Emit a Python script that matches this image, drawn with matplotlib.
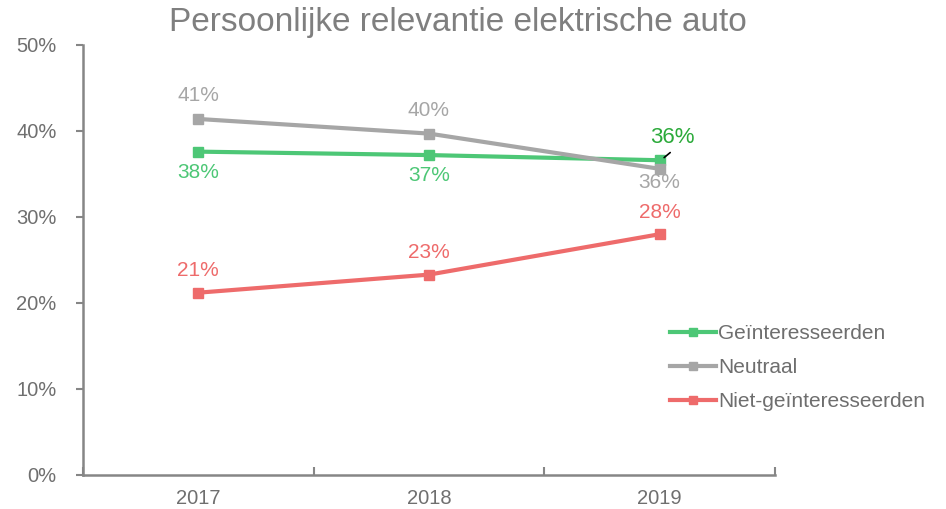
import numpy as np
import matplotlib.pyplot as plt

years = ["2017", "2018", "2019"]
geinteresseerden = [37.6, 37.2, 36.6]
neutraal = [41.4, 39.7, 35.6]
niet_geinteresseerden = [21.2, 23.3, 28.0]

green_labels = ["38%", "37%", "36%"]
gray_labels = ["41%", "40%", "36%"]
red_labels = ["21%", "23%", "28%"]

GREEN = "#4DC776"
GRAY = "#A6A6A6"
RED = "#EE6B6B"
AXIS = "#868686"
TEXT = "#7F7F7F"

plt.rcParams['font.family'] = ['Liberation Sans', 'DejaVu Sans']

fig = plt.figure(figsize=(9.46, 5.09), dpi=100)
ax = fig.add_axes([83/946, 1 - 475/509, (775-83)/946, (475-45)/509])

x = np.arange(len(years))
lg, = ax.plot(x, geinteresseerden, color=GREEN, lw=3, marker="s", ms=7, label="Geïnteresseerden")
ln, = ax.plot(x, neutraal, color=GRAY, lw=3, marker="s", ms=7, label="Neutraal")
lr, = ax.plot(x, niet_geinteresseerden, color=RED, lw=3, marker="s", ms=7, label="Niet-geïnteresseerden")

# data labels
for i in range(2):
    ax.annotate(gray_labels[i], (x[i], neutraal[i]), xytext=(0, 10), textcoords="offset points",
                ha="center", va="bottom", color=GRAY, fontsize=15)
    ax.annotate(green_labels[i], (x[i], geinteresseerden[i]), xytext=(0, -8), textcoords="offset points",
                ha="center", va="top", color=GREEN, fontsize=15)
for i in range(3):
    ax.annotate(red_labels[i], (x[i], niet_geinteresseerden[i]), xytext=(0, 9), textcoords="offset points",
                ha="center", va="bottom", color=RED, fontsize=15)
# 2019 green label sits above with a small leader line
ax.annotate(green_labels[2], (x[2], geinteresseerden[2]), xytext=(9, 9), textcoords="offset points",
            ha="center", va="bottom", color="#2BAA3A", fontsize=16)
ax.annotate("", (x[2] + 0.01, geinteresseerden[2] + 0.1), xytext=(x[2] + 0.055, geinteresseerden[2] + 1.1),
            arrowprops=dict(arrowstyle="-", color="black", lw=1.2))
ax.annotate(gray_labels[2], (x[2], neutraal[2]), xytext=(0, -3), textcoords="offset points",
            ha="center", va="top", color=GRAY, fontsize=15)

ax.set_xlim(-0.5, 2.5)
ax.set_ylim(0, 50)
ax.set_yticks(np.arange(0, 51, 10))
ax.set_yticklabels([f"{v}%" for v in range(0, 51, 10)])
ax.set_xticks(x)
ax.set_xticklabels(years)
ax.set_xticks([-0.5, 0.5, 1.5, 2.5], minor=True)
ax.tick_params(axis="x", which="major", length=0, pad=10, labelsize=14.5, labelcolor="#6F6F6F")
ax.tick_params(axis="x", which="minor", length=6, width=1.5, color=AXIS, direction="in")
ax.tick_params(axis="y", length=5, width=1.5, color=AXIS, pad=14, labelsize=14.5, labelcolor="#6F6F6F")

for s in ["top", "right"]:
    ax.spines[s].set_visible(False)
for s in ["left", "bottom"]:
    ax.spines[s].set_color(AXIS)
    ax.spines[s].set_linewidth(1.8)

fig.text(458/946, 1 - 22/509, "Persoonlijke relevantie elektrische auto", ha="center", va="center",
         fontsize=24, color=TEXT)

fig.legend(handles=[lg, ln, lr], loc="upper left", bbox_to_anchor=(662/946, 1 - 316/509),
           frameon=False, fontsize=15, labelcolor="#6E6E6E", handlelength=2.2, handletextpad=0.1,
           labelspacing=0.72, markerscale=0.8, borderaxespad=0)

fig.savefig("out.png", dpi=100)
